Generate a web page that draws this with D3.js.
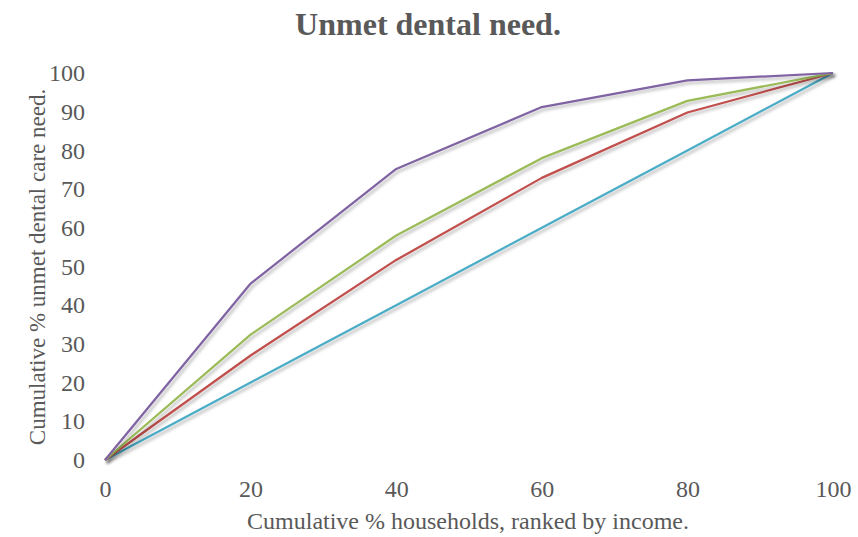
<!DOCTYPE html>
<html>
<head>
<meta charset="utf-8">
<script src="https://cdn.jsdelivr.net/npm/d3@7"></script>
<style>
  html, body { margin: 0; padding: 0; background: #fff; }
  svg { display: block; font-family: "Liberation Serif", "Times New Roman", serif; }
</style>
</head>
<body>
<svg id="chart" width="858" height="537"></svg>
<script>
// Cumulative share of households (x) and of unmet dental care need (y)
const xValues = [0, 20, 40, 60, 80, 100];
const equality = [0, 20, 40, 60, 80, 100];
const seriesRed = [0, 27.0, 51.7, 72.9, 89.8, 100];
const seriesGreen = [0, 32.4, 58.0, 78.0, 92.8, 100];
const seriesPurple = [0, 45.6, 75.2, 91.2, 98.1, 100];
const xTicks = [0, 20, 40, 60, 80, 100];
const yTicks = [0, 10, 20, 30, 40, 50, 60, 70, 80, 90, 100];

const series = [
  { name: "equality", values: equality, color: "#4BACC6" },
  { name: "red", values: seriesRed, color: "#C0504D" },
  { name: "green", values: seriesGreen, color: "#9BBB59" },
  { name: "purple", values: seriesPurple, color: "#8064A2" }
];

const svg = d3.select("#chart");
const margin = { left: 105, right: 25, top: 73, bottom: 77 };
const W = 858, H = 537;

const x = d3.scaleLinear().domain([0, 100]).range([margin.left, W - margin.right]);
const y = d3.scaleLinear().domain([0, 100]).range([H - margin.bottom, margin.top]);

const textColor = "#595959";
const serif = "Liberation Serif, Times New Roman, serif";

// soft drop shadow under each line
const defs = svg.append("defs");
const f = defs.append("filter").attr("id", "shadow")
  .attr("x", "-10%").attr("y", "-10%").attr("width", "120%").attr("height", "120%");
f.append("feDropShadow").attr("dx", 2).attr("dy", 2.5).attr("stdDeviation", 1.8)
  .attr("flood-color", "#000").attr("flood-opacity", 0.28);

// title
svg.append("text")
  .attr("x", 428).attr("y", 35)
  .attr("text-anchor", "middle")
  .attr("font-size", 32).attr("font-weight", "bold")
  .attr("fill", textColor)
  .text("Unmet dental need.");

// y axis (labels only)
const yAxis = d3.axisLeft(y).tickValues(yTicks).tickSize(0).tickPadding(0);
const gy = svg.append("g").attr("transform", `translate(${margin.left - 20},0)`).call(yAxis);
gy.attr("font-size", null).attr("font-family", null);
gy.select(".domain").remove();
gy.selectAll("text").attr("font-size", 24).attr("fill", textColor).attr("font-family", serif);

// x axis (labels only)
const xAxis = d3.axisBottom(x).tickValues(xTicks).tickSize(0).tickPadding(0);
const gx = svg.append("g").attr("transform", `translate(0,${H - margin.bottom + 20})`).call(xAxis);
gx.attr("font-size", null).attr("font-family", null);
gx.select(".domain").remove();
gx.selectAll("text").attr("font-size", 24).attr("fill", textColor).attr("font-family", serif);

// axis titles
svg.append("text")
  .attr("x", 468).attr("y", 529)
  .attr("text-anchor", "middle")
  .attr("font-size", 24).attr("fill", textColor)
  .text("Cumulative % households, ranked by income.");

svg.append("text")
  .attr("transform", `translate(45,267) rotate(-90)`)
  .attr("text-anchor", "middle")
  .attr("font-size", 23).attr("fill", textColor)
  .text("Cumulative % unmet dental care need.");

// lines
const line = d3.line()
  .x((d, i) => x(xValues[i]))
  .y(d => y(d));

svg.append("g").selectAll("path")
  .data(series)
  .join("path")
  .attr("d", d => line(d.values))
  .attr("fill", "none")
  .attr("stroke", d => d.color)
  .attr("stroke-width", 2.25)
  .attr("stroke-linejoin", "round")
  .attr("filter", "url(#shadow)");
</script>
</body>
</html>
